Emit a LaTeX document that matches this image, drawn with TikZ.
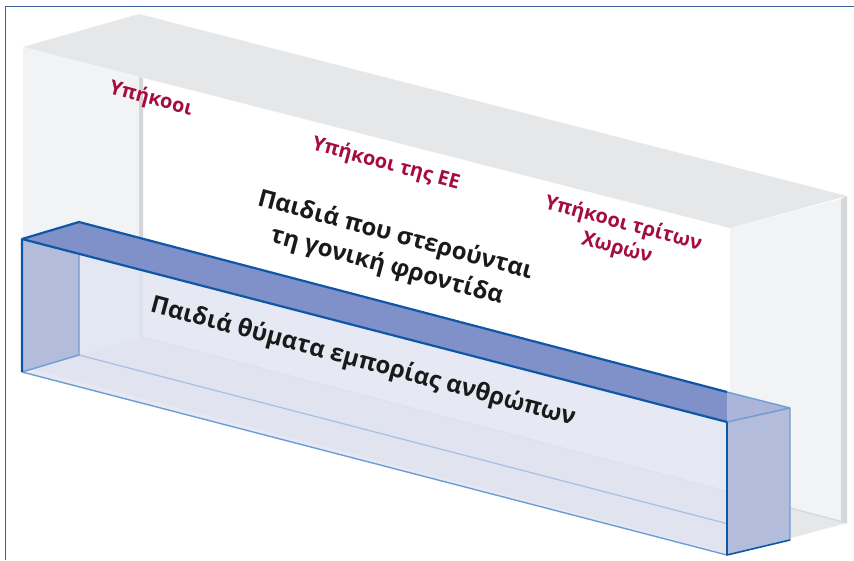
\documentclass[tikz,border=0pt]{standalone}
\usepackage{fontspec}
\setmainfont{Open Sans}
\definecolor{framecol}{HTML}{3A5F9A}
\definecolor{topgray}{HTML}{E6E7E9}
\definecolor{sidegray}{HTML}{F2F3F5}
\definecolor{edgegray}{HTML}{D5D6D8}
\definecolor{topblue}{HTML}{8090C8}
\definecolor{endblue}{HTML}{B3BCDB}
\definecolor{lightblue}{HTML}{ABB4D9}
\definecolor{frontblue}{HTML}{E0E4F1}
\definecolor{darkedge}{HTML}{0E57A6}
\definecolor{lightedge}{HTML}{6D9DD5}
\definecolor{paleedge}{HTML}{A4C0E4}
\definecolor{citizen}{HTML}{A50D3E}
\definecolor{ink}{HTML}{1A1A1A}
\begin{document}
\begin{tikzpicture}
            [x=1pt, y=-1pt,
             redlabel/.style = {text=citizen, font=\bfseries\fontsize{20}{25}\selectfont, align=center, rotate=-15, inner sep=0pt},
             blacklabel/.style = {text=ink, font=\bfseries\fontsize{24}{32}\selectfont, align=center, rotate=-15, inner sep=0pt},
             darkline/.style = {draw=darkedge, line width=2.2pt, line join=round},
             lightline/.style = {draw=lightedge, line width=1.4pt, line join=round},
             paleline/.style = {draw=paleedge, line width=1.2pt}]
            \useasboundingbox (0,0) rectangle (854,560);
            \fill[white] (0,0) rectangle (854,560);
            \draw[framecol, line width=1.5pt] (5.5,560) -- (5.5,6.5) -- (854,6.5);
            % large gray box
            \fill[topgray] (23,47) -- (139,14) -- (847,196) -- (730,228) -- cycle;
            \fill[sidegray] (23,47) -- (139,77) -- (139,337) -- (23,368) -- cycle;
            \fill[edgegray] (139,77) -- (143,78) -- (143,338) -- (139,337) -- cycle;
            \fill[sidegray] (730,228) -- (841,199) -- (841,521) -- (730,492) -- cycle;
            \fill[edgegray] (841,199) -- (847,196) -- (847,523) -- (841,521) -- cycle;
            \fill[topgray] (143,337) -- (847,523) -- (731,554) -- (27,368) -- cycle;
            \draw[edgegray, line width=1.2pt] (143,337) -- (847,523);
            % transparent blue box
            \fill[frontblue, fill opacity=0.8] (22,239) -- (727,422) -- (727,555) -- (22,372) -- cycle;
            \fill[endblue] (22,239) -- (79,222) -- (79,355) -- (22,372) -- cycle;
            \draw[paleline] (79,355) -- (790,540);
            \draw[lightline] (79,222) -- (79,355) -- (22,372);
            \fill[topblue] (22,239) -- (79,222) -- (727,392) -- (727,422) -- cycle;
            \fill[lightblue] (727,392) -- (790,408) -- (727,422) -- cycle;
            \fill[endblue] (727,422) -- (790,408) -- (790,540) -- (727,555) -- cycle;
            \draw[lightline] (727,392) -- (790,408) -- (790,540);
            \draw[lightline] (727,422) -- (790,408);
            \draw[lightline] (22,372) -- (727,555);
            \draw[darkline, line width=1.6pt] (727,422) -- (727,555) -- (790,540);
            \draw[darkline] (22,372) -- (22,239) -- (79,222) -- (727,392);
            \draw[darkline] (22,239) -- (727,422);
            % labels
            \node[redlabel] (citizens) at (151,99) {Υπήκοοι};
            \node[redlabel] (eu) at (386,164) {Υπήκοοι της ΕΕ};
            \node[redlabel] (third) at (620,236) {Υπήκοοι τρίτων\\Χωρών};
            \node[blacklabel] (care) at (391,251) {Παιδιά που στερούνται\\τη γονική φροντίδα};
            \node[blacklabel] (trafficking) at (363,362) {Παιδιά θύματα εμπορίας ανθρώπων};
\end{tikzpicture}
\end{document}
